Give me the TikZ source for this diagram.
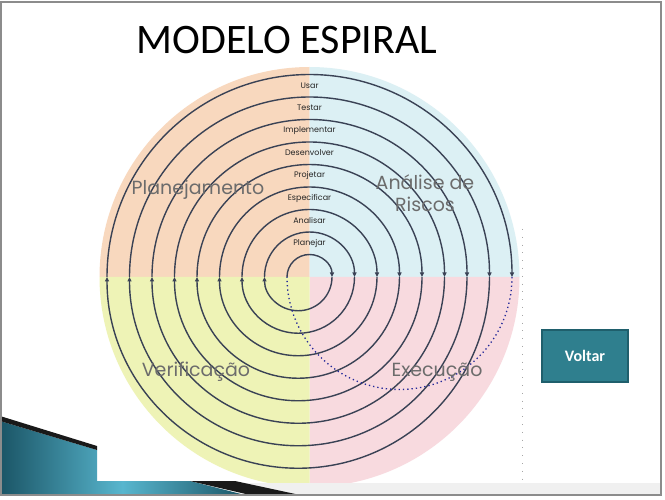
\documentclass[tikz,border=0pt]{standalone}
\usepackage{fontspec}
\setmainfont{Carlito}
\newfontfamily\comicf{Poppins}
\usetikzlibrary{arrows.meta}
\definecolor{qorange}{HTML}{F8D8BE}
\definecolor{qblue}{HTML}{DCF0F4}
\definecolor{qyellow}{HTML}{EEF3B6}
\definecolor{qpink}{HTML}{F8DADF}
\definecolor{arcc}{HTML}{3A4255}
\definecolor{tipc}{HTML}{1F3070}
\definecolor{btn}{HTML}{2F7F8E}
\definecolor{btnb}{HTML}{1F5F6C}
\definecolor{tealdk}{HTML}{1B5566}
\definecolor{teallt}{HTML}{58B6CE}
\definecolor{lblgray}{HTML}{6C6C6C}
\tikzset{
  spiralarc/.style={draw=arcc,line width=1.4pt,-{Triangle[length=4.5pt,width=4pt,fill=tipc]}},
  dotarc/.style={draw=arcc!60!blue,line width=1.3pt,dash pattern=on 1.3pt off 3pt},
  steplbl/.style={font=\comicf\fontsize{8}{9}\selectfont,text=black!85,inner sep=0pt},
  quadlbl/.style={font=\comicf\fontsize{19}{22}\selectfont,text=lblgray,align=center,inner sep=0pt},
}
\begin{document}
\begin{tikzpicture}[x=1pt,y=1pt]
\useasboundingbox (0,0) rectangle (665,499);
\fill[white] (0,0) rectangle (665,499);
% disc quadrants
\coordinate (C) at (309.5,222);
\fill[qorange] (C) -- ++(-210,0) arc[start angle=180,end angle=90,radius=210] -- cycle;
\fill[qblue] (C) -- ++(0,210) arc[start angle=90,end angle=0,radius=210] -- cycle;
\fill[qpink] (C) -- ++(210,0) arc[start angle=0,end angle=-90,radius=210] -- cycle;
\fill[qyellow] (C) -- ++(0,-210) arc[start angle=-90,end angle=-180,radius=210] -- cycle;
% faint dotted line on right
\draw[black!35,line width=0.6pt,dash pattern=on 0.8pt off 7pt] (522,270) -- (522,18);
% spiral
\foreach \k in {1,...,9}{
  \coordinate (L\k) at ({309.5-22.5*\k},222);
  \coordinate (R\k) at ({309.5+22.5*\k},222);
}
\foreach \k in {1,...,9}{
  \draw[spiralarc] (L\k) arc[start angle=180,end angle=0,radius={22.5*\k}];
}
\foreach \k in {1,...,8}{
  \draw[spiralarc] (R\k) arc[start angle=0,end angle=-180,radius={22.5*\k+11.25}];
}
\draw[dotarc] (R9) arc[start angle=0,end angle=-180,radius=112.5];
% step labels
\node[steplbl] (s1) at (309.5,256) {Planejar};
\node[steplbl] (s2) at (309.5,278.5) {Analisar};
\node[steplbl] (s3) at (309.5,301) {Especificar};
\node[steplbl] (s4) at (309.5,323.5) {Projetar};
\node[steplbl] (s5) at (309.5,346) {Desenvolver};
\node[steplbl] (s6) at (309.5,368.5) {Implementar};
\node[steplbl] (s7) at (309.5,391) {Testar};
\node[steplbl] (s8) at (309.5,413.5) {Usar};
% quadrant labels
\node[quadlbl] (qa) at (198,309) {Planejamento};
\node[quadlbl] (qb) at (425,306) {Análise de\\Riscos};
\node[quadlbl] (qc) at (196,127) {Verificação};
\node[quadlbl] (qd) at (437,127) {Execução};
% title
\node[font=\fontsize{42}{46}\selectfont,inner sep=0pt] (title) at (287,459) {MODELO ESPIRAL};
% button
\node[fill=btn,draw=btnb,line width=1.2pt,minimum width=86pt,minimum height=52pt,inner sep=0pt,
  text=white,font=\bfseries\fontsize{16}{18}\selectfont] (voltar) at (585,143) {Voltar};
% bottom decoration
\fill[black!6] (235,16) -- (661,16) -- (661,4) -- (300,4) -- cycle;
\shade[left color=tealdk,right color=tealdk,middle color=teallt]
  (0,78) -- (97,49) -- (97,18) -- (190,18) -- (245,4) -- (0,4) -- cycle;
\fill[black!90] (0,83) -- (97,53) -- (97,49) -- (0,78) -- cycle;
\fill[black!90] (190,18) -- (235,18) -- (300,4) -- (250,4) -- cycle;
% frame
\draw[black!45,line width=1.2pt] (1,4) rectangle (661,497);
\end{tikzpicture}
\end{document}
